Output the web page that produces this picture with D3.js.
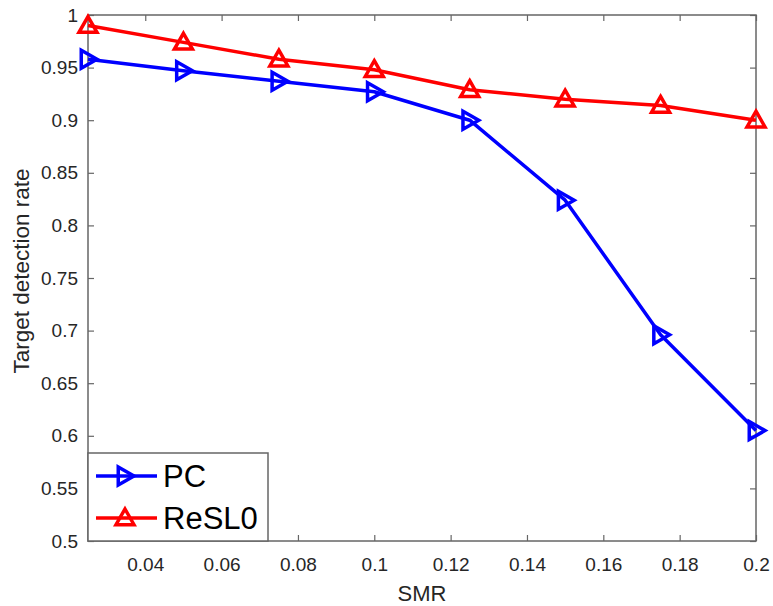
<!DOCTYPE html>
<html>
<head>
<meta charset="utf-8">
<script src="https://cdn.jsdelivr.net/npm/d3@7"></script>
<style>
    body { margin: 0; background: #fff; }
    svg text { font-family: "Liberation Sans", Arial, Helvetica, sans-serif; }
</style>
</head>
<body>
<svg id="chart" width="773" height="606"></svg>
<script>
const smr     = [0.025, 0.05, 0.075, 0.1, 0.125, 0.15, 0.175, 0.2];
const pcRate  = [0.958, 0.947, 0.937, 0.927, 0.900, 0.824, 0.696, 0.605];
const reslRate = [0.990, 0.974, 0.958, 0.948, 0.929, 0.920, 0.914, 0.900];
const xTicks  = [0.04, 0.06, 0.08, 0.1, 0.12, 0.14, 0.16, 0.18, 0.2];
const yTicks  = [0.5, 0.55, 0.6, 0.65, 0.7, 0.75, 0.8, 0.85, 0.9, 0.95, 1];

const series = [
    {name: 'PC', values: pcRate, color: '#0000ff', marker: 'right'},
    {name: 'ReSL0', values: reslRate, color: '#ff0000', marker: 'up'}
];

const margin = {top: 15, right: 17, bottom: 65, left: 88};
const W = 773, H = 606;
const width = W - margin.left - margin.right,
      height = H - margin.top - margin.bottom;
const axisColor = '#666';

const svg = d3.select('#chart');
const g = svg.append('g').attr('transform', `translate(${margin.left},${margin.top})`);

const x = d3.scaleLinear().domain([0.025, 0.2]).range([0, width]);
const y = d3.scaleLinear().domain([0.5, 1]).range([height, 0]);

const fmt = d => String(+d.toFixed(3));

function styleAxis(sel, showLabels) {
    sel.select('.domain').remove();
    sel.selectAll('line').attr('stroke', axisColor).attr('stroke-width', 1.2);
    sel.selectAll('text').attr('fill', '#262626').style('font-size', '19px');
    if (!showLabels) sel.selectAll('text').remove();
}

g.append('g').attr('transform', `translate(0,${height})`)
    .call(d3.axisBottom(x).tickValues(xTicks).tickFormat(fmt).tickSizeInner(-6).tickSizeOuter(0).tickPadding(17))
    .call(s => styleAxis(s, true));
g.append('g')
    .call(d3.axisTop(x).tickValues(xTicks).tickSizeInner(-6).tickSizeOuter(0))
    .call(s => styleAxis(s, false));
g.append('g')
    .call(d3.axisLeft(y).tickValues(yTicks).tickFormat(fmt).tickSizeInner(-6).tickSizeOuter(0).tickPadding(10))
    .call(s => styleAxis(s, true));
g.append('g').attr('transform', `translate(${width},0)`)
    .call(d3.axisRight(y).tickValues(yTicks).tickSizeInner(-6).tickSizeOuter(0))
    .call(s => styleAxis(s, false));

g.append('rect').attr('width', width).attr('height', height)
    .attr('fill', 'none').attr('stroke', axisColor).attr('stroke-width', 1.5);

// marker shapes
function markerPath(type, r) {
    if (type === 'right') return `M${-r*0.75},${-r}L${r},0L${-r*0.75},${r}Z`;
    return `M0,${-r}L${r},${r*0.75}L${-r},${r*0.75}Z`;
}

const line = d3.line().x((d, i) => x(smr[i])).y(d => y(d));

series.forEach(s => {
    g.append('path').datum(s.values)
        .attr('d', line)
        .attr('fill', 'none').attr('stroke', s.color).attr('stroke-width', 3.5)
        .attr('stroke-linejoin', 'round');
    g.selectAll(null).data(s.values).enter().append('path')
        .attr('transform', (d, i) => `translate(${x(smr[i])},${y(d)})`)
        .attr('d', markerPath(s.marker, 9))
        .attr('fill', 'none').attr('stroke', s.color).attr('stroke-width', 3.5)
        .attr('stroke-linejoin', 'miter');
});

// legend
const lg = g.append('g').attr('transform', `translate(0,${height - 88})`);
lg.append('rect').attr('width', 180).attr('height', 88)
    .attr('fill', '#fff').attr('stroke', axisColor).attr('stroke-width', 1.5);
series.forEach((s, i) => {
    const ly = 23 + i * 42;
    lg.append('line').attr('x1', 8).attr('x2', 69).attr('y1', ly).attr('y2', ly)
        .attr('stroke', s.color).attr('stroke-width', 3.5);
    lg.append('path').attr('transform', `translate(37,${ly})`)
        .attr('d', markerPath(s.marker, 9))
        .attr('fill', 'none').attr('stroke', s.color).attr('stroke-width', 3.5);
    lg.append('text').attr('x', 75).attr('y', ly + 11)
        .style('font-size', '31px').attr('fill', '#000').text(s.name);
});

// axis labels
svg.append('text').attr('x', margin.left + width / 2).attr('y', 601)
    .attr('text-anchor', 'middle').style('font-size', '22px').attr('fill', '#262626').text('SMR');
svg.append('text').attr('transform', `translate(29,${271}) rotate(-90)`)
    .attr('text-anchor', 'middle').style('font-size', '22.5px').attr('fill', '#262626').text('Target detection rate');
</script>
</body>
</html>
